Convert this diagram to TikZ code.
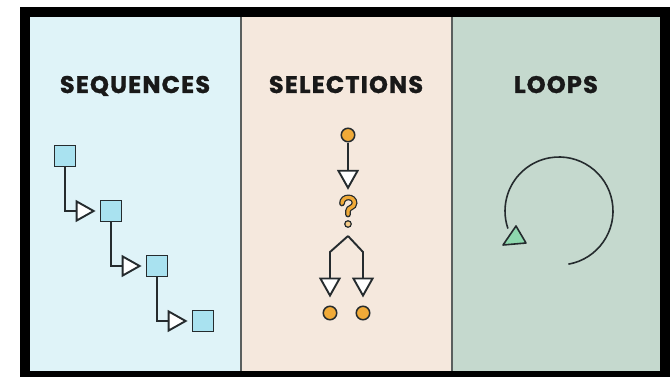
\documentclass[tikz,border=0pt]{standalone}
\usepackage{fontspec}
\setmainfont{Poppins}
\newfontfamily\headfont{Poppins}[BoldFeatures={FakeBold=1.2}, LetterSpace=5]
\usetikzlibrary{arrows.meta}
\definecolor{seqbg}{HTML}{DFF3F8}
\definecolor{selbg}{HTML}{F5E8DD}
\definecolor{loopbg}{HTML}{C5D9CE}
\definecolor{ink}{HTML}{252B2E}
\definecolor{boxfill}{HTML}{A9E2F0}
\definecolor{dotfill}{HTML}{F0AA38}
\definecolor{tipgreen}{HTML}{8ED8AE}
\definecolor{divgray}{HTML}{5A5F5E}
\begin{document}
\begin{tikzpicture}[x=1pt,y=-1pt,
  heading/.style={font=\headfont\bfseries\fontsize{24}{24}\selectfont, text=black!90, anchor=base, inner sep=0pt},
  seqbox/.style={draw=ink, fill=boxfill, line width=1.8pt, minimum size=21pt, inner sep=0pt},
  seldot/.style={circle, draw=ink, fill=dotfill, line width=1.5pt, minimum size=13.5pt, inner sep=0pt},
  conn/.style={draw=ink, line width=1.9pt, -{Triangle[length=20pt,width=22pt,fill=white]}},
  divider/.style={draw=divgray, line width=2pt},
  loopline/.style={draw=ink, line width=1.6pt}
]
\useasboundingbox (0,0) rectangle (671,377);

% frame and the three panels
\fill[black] (20,7) rectangle (670,377);
\fill[seqbg] (30,17) rectangle (241,371);
\fill[selbg] (241,17) rectangle (452,371);
\fill[loopbg] (452,17) rectangle (660,371);
\draw[divider] (241,17) -- (241,371);
\draw[divider] (452,17) -- (452,371);

% headings
\node[heading] (hseq) at (135,93) {SEQUENCES};
\node[heading] (hsel) at (346,93) {SELECTIONS};
\node[heading] (hloop) at (556,93) {LOOPS};

% sequences: a staircase of steps
\node[seqbox] (s1) at (65,156) {};
\node[seqbox] (s2) at (111,211) {};
\node[seqbox] (s3) at (157,266) {};
\node[seqbox] (s4) at (203,321) {};
\draw[conn, shorten >=4pt] (s1.south) |- (s2.west);
\draw[conn, shorten >=4pt] (s2.south) |- (s3.west);
\draw[conn, shorten >=4pt] (s3.south) |- (s4.west);

% selections: a decision that branches in two
\node[seldot] (c0) at (348,135) {};
\node[minimum width=16pt, minimum height=22pt, inner sep=0pt] (q) at (348,206) {};
\begin{scope}[shift={(q.center)}, line cap=round]
  \draw[ink, line width=5.8pt] (-6,-2.5) .. controls (-6,-10.5) and (6.5,-10.5) .. (6.5,-3) .. controls (6.5,2) and (0,1) .. (0,5) -- (0,8.5);
  \draw[dotfill, line width=3.3pt] (-6,-2.5) .. controls (-6,-10.5) and (6.5,-10.5) .. (6.5,-3) .. controls (6.5,2) and (0,1) .. (0,5) -- (0,8.5);
\end{scope}
\node[circle, draw=ink, fill=dotfill!60, line width=1.2pt, minimum size=6.5pt, inner sep=0pt] (qd) at (348,224) {};
\coordinate (apex) at (348,236);
\node[seldot] (c1) at (330,313) {};
\node[seldot] (c2) at (363,313) {};
\draw[conn, shorten >=5pt] (c0) -- (q.north);
\draw[conn, shorten >=8pt] (apex) -- ++(-18,16) -- (c1);
\draw[conn, shorten >=8pt] (apex) -- ++(15,16) -- (c2);

% loops: an open circle ending in a tip
\coordinate (lc) at (559,211);
\draw[loopline] ([shift={(80:54)}]lc) arc[start angle=80, end angle=-199, radius=54];
\filldraw[fill=tipgreen, draw=ink, line width=1.6pt, line join=round]
  (516,226) -- (503,245) -- (526,243) -- cycle;
\end{tikzpicture}
\end{document}
